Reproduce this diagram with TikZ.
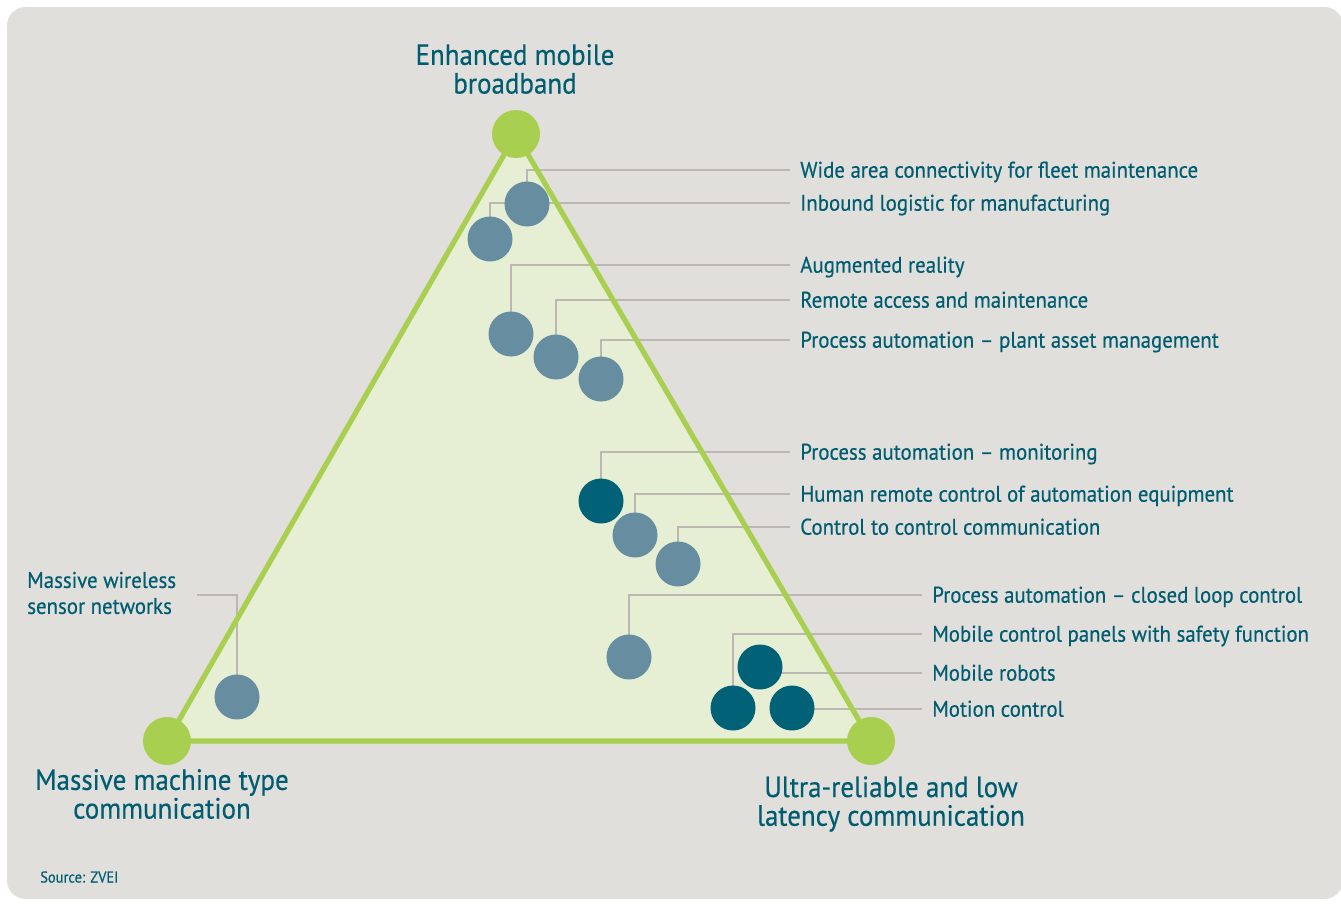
\documentclass[tikz,border=0pt]{standalone}
\usepackage{fontspec}
\setmainfont{PT Sans}[FakeStretch=0.92,FakeBold=0.4]
\definecolor{bggray}{HTML}{E0DFDB}
\definecolor{trifill}{HTML}{E6EFD4}
\definecolor{trigreen}{HTML}{A8CF50}
\definecolor{bluegray}{HTML}{678DA1}
\definecolor{darkteal}{HTML}{006177}
\definecolor{txtteal}{HTML}{005C70}
\definecolor{leadgray}{HTML}{BCB7B2}
\pgfdeclarelayer{back}
\pgfdeclarelayer{lead}
\pgfdeclarelayer{tri}
\pgfsetlayers{back,lead,tri,main}
\tikzset{
  corner/.style={circle, fill=trigreen, minimum size=36pt, inner sep=0pt},
  usecase/.style={circle, fill=bluegray, minimum size=33.75pt, inner sep=0pt},
  darkcase/.style={circle, fill=darkteal, minimum size=33.75pt, inner sep=0pt},
  lbl/.style={anchor=west, inner sep=0pt, text=txtteal, font=\fontsize{17}{19.5}\selectfont, text height=12pt, text depth=0.5pt},
  head/.style={align=center, inner sep=0pt, text=txtteal, font=\fontsize{22}{21.5}\selectfont},
  leader/.style={draw=leadgray, line width=1.3pt},
  triedge/.style={draw=trigreen, line width=3.9pt, line join=round},
}
\begin{document}
\begin{tikzpicture}[x=0.75pt,y=-0.75pt]
\useasboundingbox (0,0) rectangle (1341,903);
% corners
\node[corner] (E) at (516,134) {};
\node[corner] (M) at (167,741) {};
\node[corner] (U) at (871,741) {};
% use-case circles
\node[usecase] (c1) at (527,204) {};
\node[usecase] (c2) at (490,239) {};
\node[usecase] (c3) at (511,334) {};
\node[usecase] (c4) at (556,357) {};
\node[usecase] (c5) at (601,379) {};
\node[darkcase] (c6) at (601,501) {};
\node[usecase] (c7) at (635,535) {};
\node[usecase] (c8) at (678,564) {};
\node[usecase] (c9) at (629,657) {};
\node[darkcase] (c10) at (760,667) {};
\node[darkcase] (c11) at (733,708) {};
\node[darkcase] (c12) at (792,708) {};
\node[usecase] (c13) at (237,697) {};
% labels
\node[lbl] (t1) at (800,170) {Wide area connectivity for fleet maintenance};
\node[lbl] (t2) at (800,203) {Inbound logistic for manufacturing};
\node[lbl] (t3) at (800,265) {Augmented reality};
\node[lbl] (t4) at (800,300) {Remote access and maintenance};
\node[lbl] (t5) at (800,340) {Process automation -- plant asset management};
\node[lbl] (t6) at (800,452) {Process automation -- monitoring};
\node[lbl] (t7) at (800,494) {Human remote control of automation equipment};
\node[lbl] (t8) at (800,527) {Control to control communication};
\node[lbl] (t9) at (932,595) {Process automation -- closed loop control};
\node[lbl] (t10) at (932,634) {Mobile control panels with safety function};
\node[lbl] (t11) at (932,673) {Mobile robots};
\node[lbl] (t12) at (932,709) {Motion control};
\node[lbl, align=left, text height=, text depth=] (t13) at (27,593) {Massive wireless\\sensor networks};
\coordinate (m13) at (197,595);
% headings
\node[head] (hE) at (515,69) {Enhanced mobile\\broadband};
\node[head] (hM) at (162,794) {Massive machine type\\communication};
\node[head] (hU) at (891,804) {Ultra-reliable and low\\latency communication};
\node[anchor=west, inner sep=0pt, text=txtteal, font=\fontsize{11.8}{13}\selectfont] (src) at (40,877) {Source: ZVEI};
% background
\begin{pgfonlayer}{back}
\fill[white] (0,0) rectangle (1341,903);
\fill[bggray, rounded corners=14pt] (7,7) rectangle (1343,899);
\fill[trifill] (E.center) -- (M.center) -- (U.center) -- cycle;
\end{pgfonlayer}
\begin{pgfonlayer}{tri}
\draw[triedge] (E.center) -- (M.center) -- (U.center) -- cycle;
\end{pgfonlayer}
% leaders
\begin{pgfonlayer}{lead}
\foreach \c/\t in {c1/t1,c2/t2,c3/t3,c4/t4,c5/t5,c6/t6,c7/t7,c8/t8,c9/t9,c11/t10}{
  \draw[leader] (\c.center) |- ([xshift=-7.5pt]\t.west);
}
\draw[leader] (t11.west -| c10.center) -- ([xshift=-7.5pt]t11.west);
\draw[leader] (t12.west -| c12.center) -- ([xshift=-7.5pt]t12.west);
\draw[leader] (c13.center) |- (m13);
\end{pgfonlayer}
\end{tikzpicture}
\end{document}
